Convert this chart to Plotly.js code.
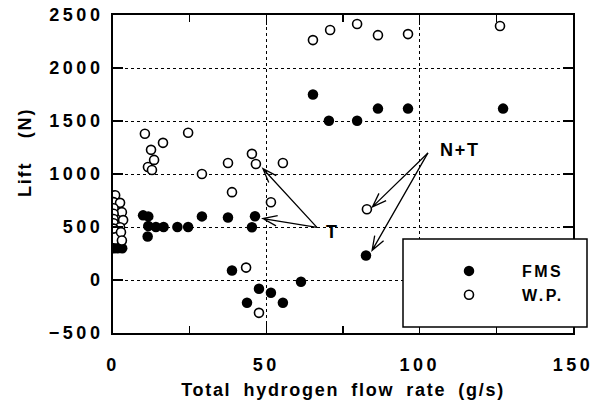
<!DOCTYPE html>
<html>
<head>
<meta charset="utf-8">
<script src="https://cdn.plot.ly/plotly-3.0.1.min.js"></script>
<style>
  html, body { margin: 0; padding: 0; background: #fff; }
  #chart { width: 599px; height: 405px; }
  .xtick text, .ytick text { letter-spacing: 3.5px; }
  .xtitle { letter-spacing: 1.7px; word-spacing: 5.5px; }
  .annotation-text { letter-spacing: 1.8px; word-spacing: 5px; }
  .legendtext { letter-spacing: 2.5px; }
</style>
</head>
<body>
<div id="chart"></div>
<script>
// ---- data ----
const fmsX = [0.3, 1.5, 3.0, 9.8, 11.5, 11.5, 11.3, 14.0, 16.5, 21.0, 24.5, 29.0, 37.5,
              45.3, 46.3, 38.8, 47.6, 51.5, 61.3, 43.7, 55.4,
              65.2, 70.4, 79.6, 86.4, 96.2, 127.2, 82.5];
const fmsY = [300, 300, 300, 610, 600, 510, 410, 500, 500, 500, 500, 600, 590,
              497, 601, 89, -82, -120, -16, -215, -215,
              1750, 1503, 1503, 1617, 1617, 1617, 231];

const wpX = [0.7, 0.2, 2.3, 0.2, 2.9, 0.2, 0.2, 3.3, 0.2, 2.3, 0.2, 2.6, 2.9,
             10.4, 16.3, 24.5, 12.4, 13.4, 11.4, 12.7, 29.0,
             37.5, 45.3, 46.6, 55.4, 38.8, 51.5, 43.4, 47.6, 82.8,
             65.2, 70.8, 79.6, 86.4, 96.2, 126.2];
const wpY = [800, 735, 728, 677, 640, 625, 575, 565, 535, 497, 485, 450, 373,
             1380, 1294, 1389, 1228, 1133, 1066, 1038, 1000,
             1104, 1190, 1095, 1104, 829, 734, 117, -310, 668,
             2263, 2358, 2415, 2310, 2320, 2396];

const seriesNames = ["FMS", "W.P."];
const xTitle = "Total hydrogen flow rate (g/s)";
const yTitle = "Lift  (N)";

// annotation labels and arrows (tail -> tip, data coords)
const labelText = ["T", "N+T"];
const labelX = [71.5, 113.0];
const labelY = [455, 1228];
const arrowTailX = [66.5, 66.5, 102.7, 102.7];
const arrowTailY = [497, 497, 1199, 1199];
const arrowTipX  = [48.9, 48.9, 84.6, 84.5];
const arrowTipY  = [1050, 580, 690, 280];

// ---- geometry helpers ----
const W = 599, H = 405;
const M = {l: 113, r: 26, t: 15, b: 72};
const pw = W - M.l - M.r, ph = H - M.t - M.b;
const xr = [0, 150], yr = [-500, 2500];
const sx = pw / (xr[1] - xr[0]), sy = ph / (yr[1] - yr[0]);

function arrowPath(tx, ty, px, py) {
  const dx = (px - tx) * sx, dy = -(py - ty) * sy;
  const len = Math.hypot(dx, dy);
  const ux = dx / len, uy = dy / len;
  const L = 15, a = 20 * Math.PI / 180;
  const barb = s => {
    const c = Math.cos(s * a), si = Math.sin(s * a);
    const bx = -(ux * c - uy * si) * L, by = -(ux * si + uy * c) * L;
    return [px + bx / sx, py - by / sy];
  };
  const b1 = barb(1), b2 = barb(-1);
  return `M${tx},${ty} L${px},${py} M${b1[0]},${b1[1]} L${px},${py} L${b2[0]},${b2[1]}`;
}

const shapes = [];
for (let i = 0; i < arrowTailX.length; i++) {
  shapes.push({type: 'path', xref: 'x', yref: 'y',
    path: arrowPath(arrowTailX[i], arrowTailY[i], arrowTipX[i], arrowTipY[i]),
    line: {color: 'black', width: 1.3}});
}
// legend frame
shapes.push({type: 'rect', xref: 'paper', yref: 'paper',
  x0: (403 - M.l) / pw, x1: (587 - M.l) / pw,
  y0: (M.t + ph - 327) / ph, y1: (M.t + ph - 239) / ph,
  fillcolor: 'white', line: {color: 'black', width: 1.5}, layer: 'above'});

const font = {family: 'Liberation Sans, Arial, sans-serif', size: 18, color: 'black', weight: 'bold'};
const legendFont = Object.assign({}, font, {size: 16});

const annotations = labelText.map((t, i) => ({
  x: labelX[i], y: labelY[i], xref: 'x', yref: 'y', text: t, showarrow: false,
  font: font
}));
annotations.push({
  xref: 'paper', yref: 'paper', x: (25 - M.l) / pw, y: (M.t + ph - 153) / ph,
  text: yTitle, textangle: -90, showarrow: false, font: font,
  xanchor: 'center', yanchor: 'middle'
});

const traces = [
  {x: fmsX, y: fmsY, name: seriesNames[0], type: 'scatter', mode: 'markers',
   marker: {symbol: 'circle', size: 10.5, color: 'black', line: {width: 0}}},
  {x: wpX, y: wpY, name: seriesNames[1], type: 'scatter', mode: 'markers',
   marker: {symbol: 'circle', size: 9, color: 'white', line: {color: 'black', width: 1.6}}}
];

const axisCommon = {
  showline: true, linecolor: 'black', linewidth: 2, mirror: 'ticks',
  ticks: 'inside', ticklen: 10, tickwidth: 1.5, tickcolor: 'black',
  showgrid: true, gridcolor: 'black', griddash: 'dot', gridwidth: 1,
  zeroline: false, tickfont: font, fixedrange: true
};

const layout = {
  width: W, height: H, margin: M,
  paper_bgcolor: 'white', plot_bgcolor: 'white',
  font: font,
  showlegend: true,
  legend: {x: (416 - M.l) / pw, xanchor: 'left', y: (M.t + ph - 254) / ph, yanchor: 'top',
           bgcolor: 'rgba(0,0,0,0)', borderwidth: 0, itemwidth: 96, font: legendFont},
  xaxis: Object.assign({}, axisCommon, {
    range: xr, tickmode: 'linear', tick0: 0, dtick: 50, ticklabelstandoff: 14,
    minor: {dtick: 25, ticks: 'inside', ticklen: 7, tickcolor: 'black', tickwidth: 1.5, showgrid: false},
    title: {text: xTitle, font: font, standoff: 10}
  }),
  yaxis: Object.assign({}, axisCommon, {
    range: yr, tickmode: 'linear', tick0: -500, dtick: 500, ticklabelstandoff: 4
  }),
  shapes: shapes,
  annotations: annotations
};

Plotly.newPlot('chart', traces, layout, {displayModeBar: false, staticPlot: true});
</script>
</body>
</html>
